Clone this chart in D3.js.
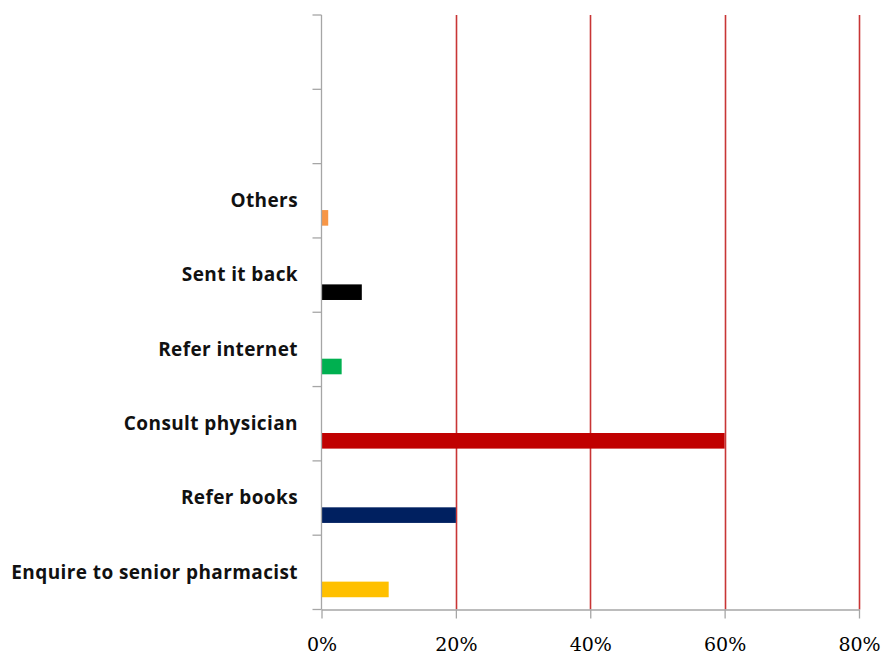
<!DOCTYPE html>
<html>
<head>
<meta charset="utf-8">
<script src="https://cdn.jsdelivr.net/npm/d3@7"></script>
<style>
  html, body { margin: 0; padding: 0; background: #fff; }
  svg { display: block; }
</style>
</head>
<body>
<svg id="chart" width="881" height="659"></svg>
<script>
// Responses, listed top to bottom; the first two slots are empty
const categories = ["", " ", "Others", "Sent it back", "Refer internet", "Consult physician", "Refer books", "Enquire to senior pharmacist"];
const values = [null, null, 0.01, 0.06, 0.03, 0.60, 0.20, 0.10];
const barColors = [null, null, "#f79646", "#000000", "#00b050", "#c00000", "#002060", "#ffc000"];
const xTicks = [0, 0.2, 0.4, 0.6, 0.8];

const svg = d3.select("#chart");
const plotLeft = 321.5, plotRight = 859, plotTop = 15, plotBottom = 609.5;

const x = d3.scaleLinear().domain([0, 0.8]).range([plotLeft, plotRight]);
const y = d3.scaleBand().domain(categories).range([plotTop, plotBottom]).padding(0);

// vertical gridlines
svg.append("g")
  .selectAll("line")
  .data(xTicks.filter(d => d > 0))
  .join("line")
  .attr("x1", d => Math.round(x(d)) + 0.5)
  .attr("x2", d => Math.round(x(d)) + 0.5)
  .attr("y1", plotTop)
  .attr("y2", plotBottom)
  .attr("stroke", "#c83535")
  .attr("stroke-width", 1.6);

// bars
const rows = categories.map((c, i) => ({ c, v: values[i], color: barColors[i] }));
svg.append("g")
  .selectAll("rect")
  .data(rows.filter(d => d.v != null))
  .join("rect")
  .attr("x", x(0))
  .attr("y", d => y(d.c) + y.step() * 0.625)
  .attr("width", d => x(d.v) - x(0))
  .attr("height", y.step() * 0.21)
  .attr("fill", d => d.color);

// x axis
const xAxis = svg.append("g")
  .attr("transform", `translate(0,${plotBottom})`)
  .call(d3.axisBottom(x).tickValues(xTicks).tickFormat(d3.format(".0%")).tickSize(9).tickPadding(19).tickSizeOuter(0));
xAxis.select(".domain").attr("stroke", "#a6a6a6").attr("stroke-width", 1.3);
xAxis.selectAll(".tick line").attr("stroke", "#a6a6a6").attr("stroke-width", 1.3);
xAxis.selectAll(".tick text")
  .attr("fill", "#000")
  .style("font-family", "'DejaVu Serif', serif")
  .style("font-size", "19px");

// y axis line and category boundary ticks
const yAxis = svg.append("g");
yAxis.append("line")
  .attr("x1", plotLeft).attr("x2", plotLeft)
  .attr("y1", plotTop).attr("y2", plotBottom)
  .attr("stroke", "#a6a6a6").attr("stroke-width", 1.3);
const bounds = categories.map(c => y(c)).concat([plotBottom]);
yAxis.selectAll("line.tick")
  .data(bounds)
  .join("line")
  .attr("class", "tick")
  .attr("x1", plotLeft - 9).attr("x2", plotLeft)
  .attr("y1", d => d).attr("y2", d => d)
  .attr("stroke", "#a6a6a6").attr("stroke-width", 1.3);

// category labels
svg.append("g")
  .selectAll("text")
  .data(categories.filter(c => c.trim() !== ""))
  .join("text")
  .attr("x", 298)
  .attr("y", c => y(c) + 43.5)
  .attr("text-anchor", "end")
  .style("font-family", "'Open Sans', sans-serif")
  .style("font-weight", "700")
  .style("font-size", "19px")
  .style("letter-spacing", "0.4px")
  .attr("fill", "#111")
  .text(c => c);
</script>
</body>
</html>
